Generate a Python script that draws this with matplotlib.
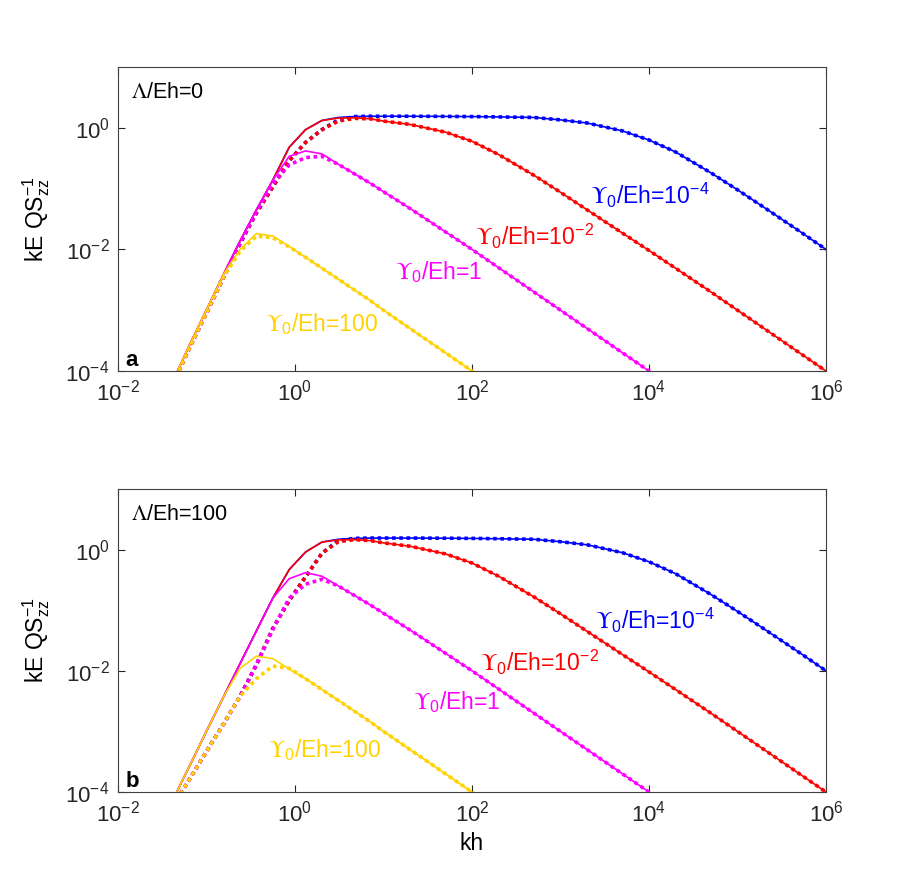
import numpy as np
import matplotlib
matplotlib.use('Agg')
import matplotlib.pyplot as plt

plt.rcParams['font.family'] = ['Liberation Sans', 'DejaVu Sans']
plt.rcParams['mathtext.fontset'] = 'custom'
plt.rcParams['mathtext.rm'] = 'Liberation Sans'
plt.rcParams['mathtext.it'] = 'Liberation Sans:italic'
plt.rcParams['mathtext.tt'] = 'STIXGeneral'
plt.rcParams['axes.unicode_minus'] = False

## DATA
# kh samples: fine near the peaks, coarse on the straight tails
kh_head = [0.0285, 0.0437, 0.0668, 0.102, 0.157, 0.240, 0.367, 0.562, 0.861, 1.318, 2.018, 3.09, 4.73, 7.24]
kh_tail = [10, 20, 50, 100, 200, 500, 1e3, 2e3, 5e3, 1e4, 2e4, 5e4, 1e5, 2e5, 5e5, 1e6]

# tails are the same for solid / dotted and for both panels
blue_tail = [1.55, 1.55, 1.54, 1.53, 1.51, 1.48, 1.35, 1.20, 0.89, 0.63, 0.40, 0.182, 0.0955, 0.049, 0.020, 0.010]
red_tail = [1.29, 1.135, 0.85, 0.60, 0.363, 0.166, 0.087, 0.0447, 0.0186, 0.0096, 0.0049, 0.002, 0.001, 5.0e-4, 2.0e-4, 1.0e-4]
mag_tail = [0.089, 0.047, 0.0195, 0.010, 0.005, 0.002, 0.001, 5e-4, 2e-4, 1e-4, 5e-5, 2e-5, 1e-5, 5e-6, 2e-6, 1e-6]
yel_tail = [1e-3, 5e-4, 2e-4, 1e-4, 5e-5, 2e-5, 1e-5, 5e-6, 2e-6, 1e-6, 5e-7, 2e-7, 1e-7, 5e-8, 2e-8, 1e-8]

# panel a, Lambda/Eh = 0
blue_a_solid = [2.0e-5, 7.9e-5, 3.0e-4, 1.07e-3, 3.98e-3, 0.0138, 0.0447, 0.138, 0.479, 0.933, 1.32, 1.48, 1.53, 1.55]
red_a_solid = [2.0e-5, 7.9e-5, 3.0e-4, 1.07e-3, 3.98e-3, 0.0138, 0.0447, 0.138, 0.479, 0.933, 1.32, 1.445, 1.46, 1.40]
mag_a_solid = [2.0e-5, 7.9e-5, 3.0e-4, 1.07e-3, 3.98e-3, 0.0138, 0.0447, 0.138, 0.339, 0.417, 0.372, 0.251, 0.174, 0.120]
yel_a_solid = [2.0e-5, 7.9e-5, 3.0e-4, 1.07e-3, 3.98e-3, 0.0100, 0.0182, 0.0166, 0.0112, 0.0074, 0.0049, 0.00324, 0.00214, 0.00141]

blue_a_dot = [1.78e-5, 7.1e-5, 2.69e-4, 9.5e-4, 3.55e-3, 0.0126, 0.0398, 0.107, 0.288, 0.575, 0.933, 1.35, 1.53, 1.55]
red_a_dot = [1.78e-5, 7.1e-5, 2.69e-4, 9.5e-4, 3.55e-3, 0.0126, 0.0398, 0.107, 0.288, 0.575, 0.933, 1.29, 1.43, 1.40]
mag_a_dot = [1.78e-5, 7.1e-5, 2.69e-4, 9.5e-4, 3.55e-3, 0.0126, 0.0417, 0.120, 0.2455, 0.324, 0.339, 0.251, 0.174, 0.120]
yel_a_dot = [1.78e-5, 7.1e-5, 2.69e-4, 9.5e-4, 3.55e-3, 0.0093, 0.0166, 0.0155, 0.0110, 0.0074, 0.0049, 0.00324, 0.00214, 0.00141]

# panel b, Lambda/Eh = 100
blue_b_solid = [2.5e-5, 8.5e-5, 3.0e-4, 1.07e-3, 3.8e-3, 0.0132, 0.0457, 0.1585, 0.468, 0.912, 1.33, 1.48, 1.53, 1.55]
red_b_solid = [2.5e-5, 8.5e-5, 3.0e-4, 1.07e-3, 3.8e-3, 0.0132, 0.0457, 0.1585, 0.468, 0.912, 1.33, 1.445, 1.46, 1.40]
mag_b_solid = [2.5e-5, 8.5e-5, 3.0e-4, 1.07e-3, 3.8e-3, 0.0132, 0.0457, 0.1585, 0.331, 0.417, 0.363, 0.251, 0.174, 0.120]
yel_b_solid = [2.5e-5, 8.5e-5, 3.0e-4, 1.07e-3, 3.8e-3, 0.0110, 0.0174, 0.0159, 0.0107, 0.0074, 0.0049, 0.00324, 0.00214, 0.00141]

blue_b_dot = [2.3e-5, 6.5e-5, 1.78e-4, 4.9e-4, 1.35e-3, 3.8e-3, 0.0126, 0.0501, 0.1445, 0.355, 0.871, 1.41, 1.53, 1.55]
red_b_dot = [2.3e-5, 6.5e-5, 1.78e-4, 4.9e-4, 1.35e-3, 3.8e-3, 0.0126, 0.0501, 0.1445, 0.355, 0.871, 1.35, 1.46, 1.40]
mag_b_dot = [2.3e-5, 6.5e-5, 1.78e-4, 4.9e-4, 1.35e-3, 3.8e-3, 0.0126, 0.0479, 0.1585, 0.269, 0.324, 0.251, 0.174, 0.120]
yel_b_dot = [2.3e-5, 6.5e-5, 1.78e-4, 4.9e-4, 1.35e-3, 3.8e-3, 7.4e-3, 0.0120, 0.0110, 0.0074, 0.0049, 0.00324, 0.00214, 0.00141]

colors = ['#0000FF', '#FF0000', '#FF00FF', '#FFD200']
curve_labels = [r'$\mathtt{\Upsilon}_0$/Eh=10$^{-4}$', r'$\mathtt{\Upsilon}_0$/Eh=10$^{-2}$',
                r'$\mathtt{\Upsilon}_0$/Eh=1', r'$\mathtt{\Upsilon}_0$/Eh=100']
x_ticks = [1e-2, 1e0, 1e2, 1e4, 1e6]
y_ticks = [1e-4, 1e-2, 1e0]

kh = np.array(kh_head + kh_tail)
tails = [blue_tail, red_tail, mag_tail, yel_tail]

fig = plt.figure(figsize=(9.13, 8.91), dpi=100)
ax_a = fig.add_axes([0.1292, 0.5836, 0.7755, 0.3412])
ax_b = fig.add_axes([0.1292, 0.1111, 0.7755, 0.3401])


def draw_panel(ax, solids, dots, label_pos, lam_text, letter):
    for c, s, d, t in zip(colors, solids, dots, tails):
        ax.plot(kh, s + t, color=c, lw=1.2, solid_joinstyle='miter')
        ax.plot(kh, d + t, color=c, lw=2.6, linestyle=(0, (1.0, 1.0)))
    for lab, (x, y), c in zip(curve_labels, label_pos, colors):
        ax.text(x, y, lab, color=c, fontsize=16.5, ha='left', va='baseline')
    ax.set_xscale('log')
    ax.set_yscale('log')
    ax.set_xlim(1e-2, 1e6)
    ax.set_ylim(1e-4, 1e1)
    ax.set_xticks(x_ticks)
    ax.set_yticks(y_ticks)
    ax.minorticks_off()
    ax.tick_params(direction='in', top=True, right=True, length=5, width=0.8,
                   labelsize=16, pad=6, colors='#262626')
    for sp in ax.spines.values():
        sp.set_color('#404040')
        sp.set_linewidth(0.8)
    ax.text(0.019, 0.898, lam_text, transform=ax.transAxes, fontsize=15.5, va='baseline')
    ax.text(0.011, 0.017, letter, transform=ax.transAxes, fontsize=16,
            fontweight='bold', va='baseline')
    ax.set_ylabel(r'kE QS$^{\mathrm{-1}}_{\mathrm{zz}}$', fontsize=16.5, labelpad=10)


draw_panel(ax_a,
           [blue_a_solid, red_a_solid, mag_a_solid, yel_a_solid],
           [blue_a_dot, red_a_dot, mag_a_dot, yel_a_dot],
           [(2150, 0.0568), (108, 0.0116), (13.5, 0.00323), (0.458, 4.57e-4)],
           r'$\mathtt{\Lambda}$/Eh=0', 'a')
draw_panel(ax_b,
           [blue_b_solid, red_b_solid, mag_b_solid, yel_b_solid],
           [blue_b_dot, red_b_dot, mag_b_dot, yel_b_dot],
           [(2450, 0.0481), (123, 0.00989), (21.5, 0.00231), (0.495, 3.74e-4)],
           r'$\mathtt{\Lambda}$/Eh=100', 'b')
ax_b.set_xlabel('kh', fontsize=16.5)

fig.savefig('out.png', dpi=100)
